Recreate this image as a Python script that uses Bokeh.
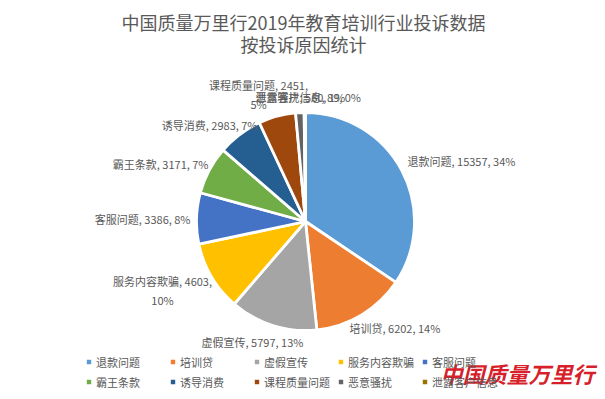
import numpy as np
from bokeh.plotting import figure
from bokeh.models import ColumnDataSource, Range1d, Legend, LegendItem
from bokeh.core.properties import value
from bokeh.embed import file_html
from bokeh.resources import INLINE

# ---------------- data ----------------
categories = ["退款问题", "培训贷", "虚假宣传", "服务内容欺骗", "客服问题",
              "霸王条款", "诱导消费", "课程质量问题", "恶意骚扰", "泄露客户信息"]
counts = [15357, 6202, 5797, 4603, 3386, 3171, 2983, 2451, 560, 89]
colors = ["#5B9BD5", "#ED7D31", "#A5A5A5", "#FFC000", "#4472C4",
          "#70AD47", "#255E91", "#9E480E", "#636363", "#997300"]
title_lines = ["中国质量万里行2019年教育培训行业投诉数据", "按投诉原因统计"]
watermark = "中国质量万里行"

# ---------------- layout (styles / positions) ----------------
PW, PH = 600, 395                    # figure size
H = 399
FONT = "Noto Sans CJK SC"
TXT = "#595959"
CX, CY, R = 305, 221, 109            # pie centre / radius in page pixels
# label anchor offsets from pie centre (page pixels), alignment, wrapped?
label_off = [(102, -61), (44, 106), (-53, 120), (-143, 69), (-115, -3),
             (-97, -58), (-48, -97), (-47, -127), (-50, -125), (-50, -125)]
label_align = ["left", "left", "center", "center", "right",
               "right", "right", "center", "left", "left"]
label_wrap = [False, False, False, True, False, False, False, True, False, False]

def py(y):  # page y -> data y
    return H - y

vals = np.array(counts, dtype=float)
total = vals.sum()
frac = vals / total
cum_end = np.cumsum(frac)
cum_start = cum_end - frac
start = np.pi / 2 - 2 * np.pi * cum_start
end = np.pi / 2 - 2 * np.pi * cum_end
pct = [int(round(100 * f)) for f in frac]

src = ColumnDataSource(dict(cat=categories, val=counts, color=colors,
                            start=start, end=end))

p = figure(width=PW, height=PH, x_range=Range1d(0, PW), y_range=Range1d(H - PH, H),
           toolbar_location=None, output_backend="svg", min_border=0,
           x_axis_location=None, y_axis_location=None)
p.grid.visible = False
p.outline_line_color = None
p.background_fill_color = "white"

wr = p.wedge(x=CX, y=py(CY), radius=R, start_angle="start", end_angle="end",
             direction="clock", fill_color="color", line_color="white",
             line_width=2.8, source=src)

# data labels
lx, ly, lt, la = [], [], [], []
for i, (c, v, pc) in enumerate(zip(categories, counts, pct)):
    if label_wrap[i]:
        t = f"{c}, {v},\n{pc}%"
    else:
        t = f"{c}, {v}, {pc}%"
    dx, dy = label_off[i]
    lx.append(CX + dx)
    ly.append(py(CY + dy))
    lt.append(t)
    la.append(label_align[i])
lsrc = ColumnDataSource(dict(x=lx, y=ly, text=lt, align=la))
p.text(x="x", y="y", text="text", text_align="align", text_baseline="middle",
       text_font=value(FONT), text_font_size="11px", text_color=TXT,
       text_line_height=1.15, source=lsrc)

# title
p.text(x=[303, 303], y=[py(21), py(43)], text=title_lines,
       text_align="center", text_baseline="middle", text_font=value(FONT),
       text_font_size="18px", text_color=TXT)

# legend
items = [LegendItem(label=c, renderers=[wr], index=i) for i, c in enumerate(categories)]
leg = Legend(items=items, ncols=5, orientation="horizontal", location=(84, 4),
             glyph_width=9, glyph_height=9, label_standoff=3, label_width=71,
             label_height=19, spacing=1, padding=0, margin=0,
             border_line_color=None, background_fill_alpha=0,
             label_text_font=FONT, label_text_font_size="11px",
             label_text_color=TXT)
p.add_layout(leg, "center")

# watermark
p.text(x=[440], y=[py(372)], text=[watermark], text_align="left",
       text_baseline="middle", text_font=value(FONT), text_font_size="22px",
       text_font_style="bold italic", text_color="#D5121B", text_alpha=0.95)

open("out.html", "w").write(file_html(p, INLINE))
